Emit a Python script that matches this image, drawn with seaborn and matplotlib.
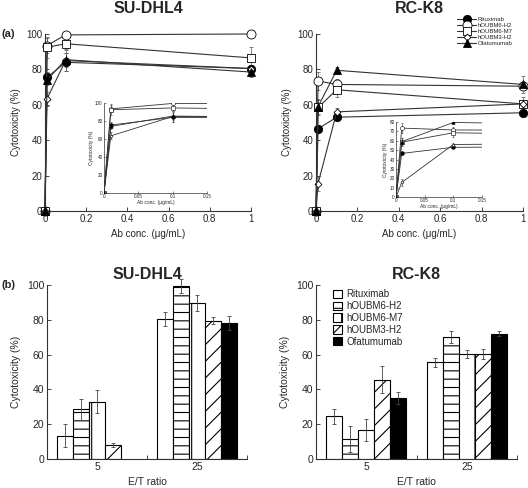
import numpy as np
import pandas as pd
import matplotlib
matplotlib.use("Agg")
import matplotlib.pyplot as plt
from matplotlib.lines import Line2D
from matplotlib.patches import Patch
import seaborn as sns

antibodies = ["Rituximab", "hOUBM6-H2", "hOUBM6-M7", "hOUBM3-H2", "Ofatumumab"]

# (a) dose response: % cytotoxicity vs antibody conc.
conc = [0, 0.01, 0.1, 1]
conc_ticks = [0, 0.2, 0.4, 0.6, 0.8, 1]
conc_labels = ["0", "0.2", "0.4", "0.6", "0.8", "1"]
inset_ticks = [0, 0.05, 0.1, 0.15]
inset_labels = ["0", "0.05", "0.1", "0.15"]

su_rit = [0, 75.5, 84, 80.5]
su_h2 = [0, 93.5, 99.5, 100]
su_m7 = [0, 92.5, 94.5, 86.5]
su_m3 = [0, 63.5, 85, 80.5]
su_ofa = [0, 74, 85.5, 78.5]
su_rit_err = [0, 3, 5, 2]
su_h2_err = [0, 4, 1, 1]
su_m7_err = [0, 6, 3, 6]
su_m3_err = [0, 4, 6, 2]
su_ofa_err = [0, 3, 4, 3]

rc_rit = [0, 46.5, 53, 55.5]
rc_h2 = [0, 73.5, 71.5, 70.5]
rc_m7 = [0, 58.5, 68.5, 60.5]
rc_m3 = [0, 15.5, 56, 60.5]
rc_ofa = [0, 59, 79.5, 71.5]
rc_rit_err = [0, 2, 1, 1]
rc_h2_err = [0, 5, 3, 2]
rc_m7_err = [0, 4, 4, 4]
rc_m3_err = [0, 4, 2, 2]
rc_ofa_err = [0, 4, 2, 5]

# (b) E/T ratio bars
et_ratio = ["5", "25"]
su_bar_rit = [13.5, 80.5]
su_bar_h2 = [28.5, 99.5]
su_bar_m7 = [33, 89.5]
su_bar_m3 = [8, 79.5]
su_bar_ofa = [np.nan, 78]
su_bar_rit_err = [6.5, 4]
su_bar_h2_err = [6, 4]
su_bar_m7_err = [6.5, 4.5]
su_bar_m3_err = [1, 2]
su_bar_ofa_err = [0, 4]

rc_bar_rit = [24.5, 55.5]
rc_bar_h2 = [11.5, 70.2]
rc_bar_m7 = [16.7, 60.4]
rc_bar_m3 = [45.6, 60.4]
rc_bar_ofa = [35, 72]
rc_bar_rit_err = [4.3, 2.5]
rc_bar_h2_err = [7.7, 3.3]
rc_bar_m7_err = [6.3, 2.5]
rc_bar_m3_err = [7.7, 3]
rc_bar_ofa_err = [3.3, 1.5]

sns.set_style("ticks")
plt.rcParams["font.family"] = ["Liberation Sans", "DejaVu Sans"]
plt.rcParams["hatch.linewidth"] = 0.8
plt.rcParams["axes.edgecolor"] = "#333333"

styles = {
    "Rituximab": dict(marker="o", ms=6, mfc="black"),
    "hOUBM6-H2": dict(marker="o", ms=6.5, mfc="white"),
    "hOUBM6-M7": dict(marker="s", ms=5.5, mfc="white"),
    "hOUBM3-H2": dict(marker="D", ms=3.5, mfc="white"),
    "Ofatumumab": dict(marker="^", ms=5.5, mfc="black"),
}
hatches = ["", "--", "|", "//", ""]
bar_colors = ["white", "white", "white", "white", "black"]


def line_panel(ax, series, errs, inset=False):
    for name, vals, err in zip(antibodies, series, errs):
        st = dict(styles[name])
        if inset:
            st["ms"] = st["ms"] * 0.45
        sns.lineplot(x=conc, y=vals, ax=ax, color="#333333", lw=0.8 if not inset else 0.6,
                     mec="black", mew=0.6 if not inset else 0.4, clip_on=inset,
                     zorder=3, legend=False, **st)
        ax.errorbar(conc, vals, yerr=err, fmt="none", ecolor="#555555",
                    elinewidth=0.5, capsize=1.5 if not inset else 0.8,
                    capthick=0.5, clip_on=inset, zorder=2)
    ax.set_xlim(0, 1)
    ax.set_ylim(0, 100)
    sns.despine(ax=ax)
    ax.tick_params(direction="in", length=3, width=0.6, labelsize=7, pad=2)
    for s in ax.spines.values():
        s.set_linewidth(0.8)


def bar_panel(ax, vals, errs):
    rows = []
    for name, v in zip(antibodies, vals):
        for et, y in zip(et_ratio, v):
            if not np.isnan(y):
                rows.append({"et": et, "ab": name, "cyt": y})
    df = pd.DataFrame(rows)
    sns.barplot(data=df, x="et", y="cyt", hue="ab", order=et_ratio, hue_order=antibodies,
                palette=dict(zip(antibodies, bar_colors)), saturation=1,
                edgecolor="black", linewidth=0.8, errorbar=None, legend=False, ax=ax)
    for cont, h, err in zip(ax.containers, hatches, errs):
        for bar in cont:
            bar.set_hatch(h)
            cx = bar.get_x() + bar.get_width() / 2
            i = int(round(cx))
            ax.errorbar(cx, bar.get_height(), yerr=err[i], fmt="none", ecolor="#444444",
                        elinewidth=0.6, capsize=1.5, capthick=0.6, clip_on=False, zorder=4)
    ax.set_xlim(-0.5, 1.5)
    ax.set_ylim(0, 100)
    ax.set_xticks([0, 1])
    ax.set_xticklabels(et_ratio)
    ax.set_xticks([0.5, 1.5], minor=True)
    ax.set_yticks([0, 20, 40, 60, 80, 100])
    sns.despine(ax=ax)
    ax.tick_params(which="both", direction="in", length=3, width=0.6, labelsize=7.5, pad=2)
    ax.set_xlabel("E/T ratio", fontsize=7.5)
    ax.set_ylabel("Cytotoxicity (%)", fontsize=7.5)
    for s in ax.spines.values():
        s.set_linewidth(0.8)


fig = plt.figure(figsize=(5.28, 4.88), dpi=100)

W, H = 528, 488


def add_ax(x0, x1, ytop, ybot):
    return fig.add_axes([x0 / W, 1 - ybot / H, (x1 - x0) / W, (ybot - ytop) / H])


# top panels
su_series = [su_rit, su_h2, su_m7, su_m3, su_ofa]
su_errs = [su_rit_err, su_h2_err, su_m7_err, su_m3_err, su_ofa_err]
rc_series = [rc_rit, rc_h2, rc_m7, rc_m3, rc_ofa]
rc_errs = [rc_rit_err, rc_h2_err, rc_m7_err, rc_m3_err, rc_ofa_err]

for (x0, x1), series, errs, title, ins_box, ins_ylim, ins_yticks in [
    ((45, 251), su_series, su_errs, "SU-DHL4", (104, 207, 103, 193), 100, range(0, 101, 20)),
    ((316, 523), rc_series, rc_errs, "RC-K8", (396, 482, 122, 197), 80, range(0, 81, 10)),
]:
    ax = add_ax(x0, x1, 34, 211)
    line_panel(ax, series, errs)
    ax.set_xticks(conc_ticks)
    ax.set_xticklabels(conc_labels)
    ax.set_yticks(range(0, 101, 20))
    ax.set_xlabel("Ab conc. (\u03bcg/mL)", fontsize=7)
    ax.set_ylabel("Cytotoxicity (%)", fontsize=7)
    ax.set_title(title, fontsize=11.5, fontweight="bold", pad=15)

    ins = add_ax(ins_box[0], ins_box[1], ins_box[2], ins_box[3])
    ins.set_facecolor("none")
    line_panel(ins, series, errs, inset=True)
    ins.set_xlim(0, 0.15)
    ins.set_ylim(0, ins_ylim)
    ins.set_xticks(inset_ticks)
    ins.set_xticklabels(inset_labels)
    ins.set_yticks(list(ins_yticks))
    ins.tick_params(direction="in", length=1.5, width=0.4, labelsize=3.3, pad=1)
    for s in ins.spines.values():
        s.set_linewidth(0.5)
    ins.set_xlabel("Ab conc. (\u03bcg/mL)", fontsize=3.5, labelpad=0.5)
    ins.set_ylabel("Cytotoxicity (%)", fontsize=3.5, labelpad=1)

handles = [Line2D([], [], color="#333333", lw=0.8, mec="black", mew=0.6, **styles[n])
           for n in antibodies]
fig.legend(handles, antibodies, loc="upper left", bbox_to_anchor=(457 / W, 1 - 17 / H),
           fontsize=4.3, frameon=False, handlelength=3.2, labelspacing=0.12,
           handletextpad=0.3, borderpad=0, borderaxespad=0)

# bottom panels
ax_b1 = add_ax(47, 247, 285, 459)
bar_panel(ax_b1, [su_bar_rit, su_bar_h2, su_bar_m7, su_bar_m3, su_bar_ofa],
          [su_bar_rit_err, su_bar_h2_err, su_bar_m7_err, su_bar_m3_err, su_bar_ofa_err])
ax_b1.set_title("SU-DHL4", fontsize=11.5, fontweight="bold", pad=4)

ax_b2 = add_ax(316, 517, 285, 459)
bar_panel(ax_b2, [rc_bar_rit, rc_bar_h2, rc_bar_m7, rc_bar_m3, rc_bar_ofa],
          [rc_bar_rit_err, rc_bar_h2_err, rc_bar_m7_err, rc_bar_m3_err, rc_bar_ofa_err])
ax_b2.set_title("RC-K8", fontsize=11.5, fontweight="bold", pad=4)
bar_handles = [Patch(facecolor=c, edgecolor="black", hatch=h, linewidth=0.8)
               for c, h in zip(bar_colors, ["", "-", "|", "/", ""])]
ax_b2.legend(bar_handles, antibodies, loc="upper left",
             bbox_to_anchor=(333 / W, 1 - 289 / H), bbox_transform=fig.transFigure,
             fontsize=7, frameon=False, handlelength=0.9, handleheight=0.9,
             labelspacing=0.2, handletextpad=0.5, borderpad=0, borderaxespad=0)

fig.text(2 / W, 1 - 34 / H, "(a)", fontsize=8, fontweight="bold", va="center")
fig.text(2 / W, 1 - 285 / H, "(b)", fontsize=8, fontweight="bold", va="center")

fig.savefig("out.png", dpi=100)
